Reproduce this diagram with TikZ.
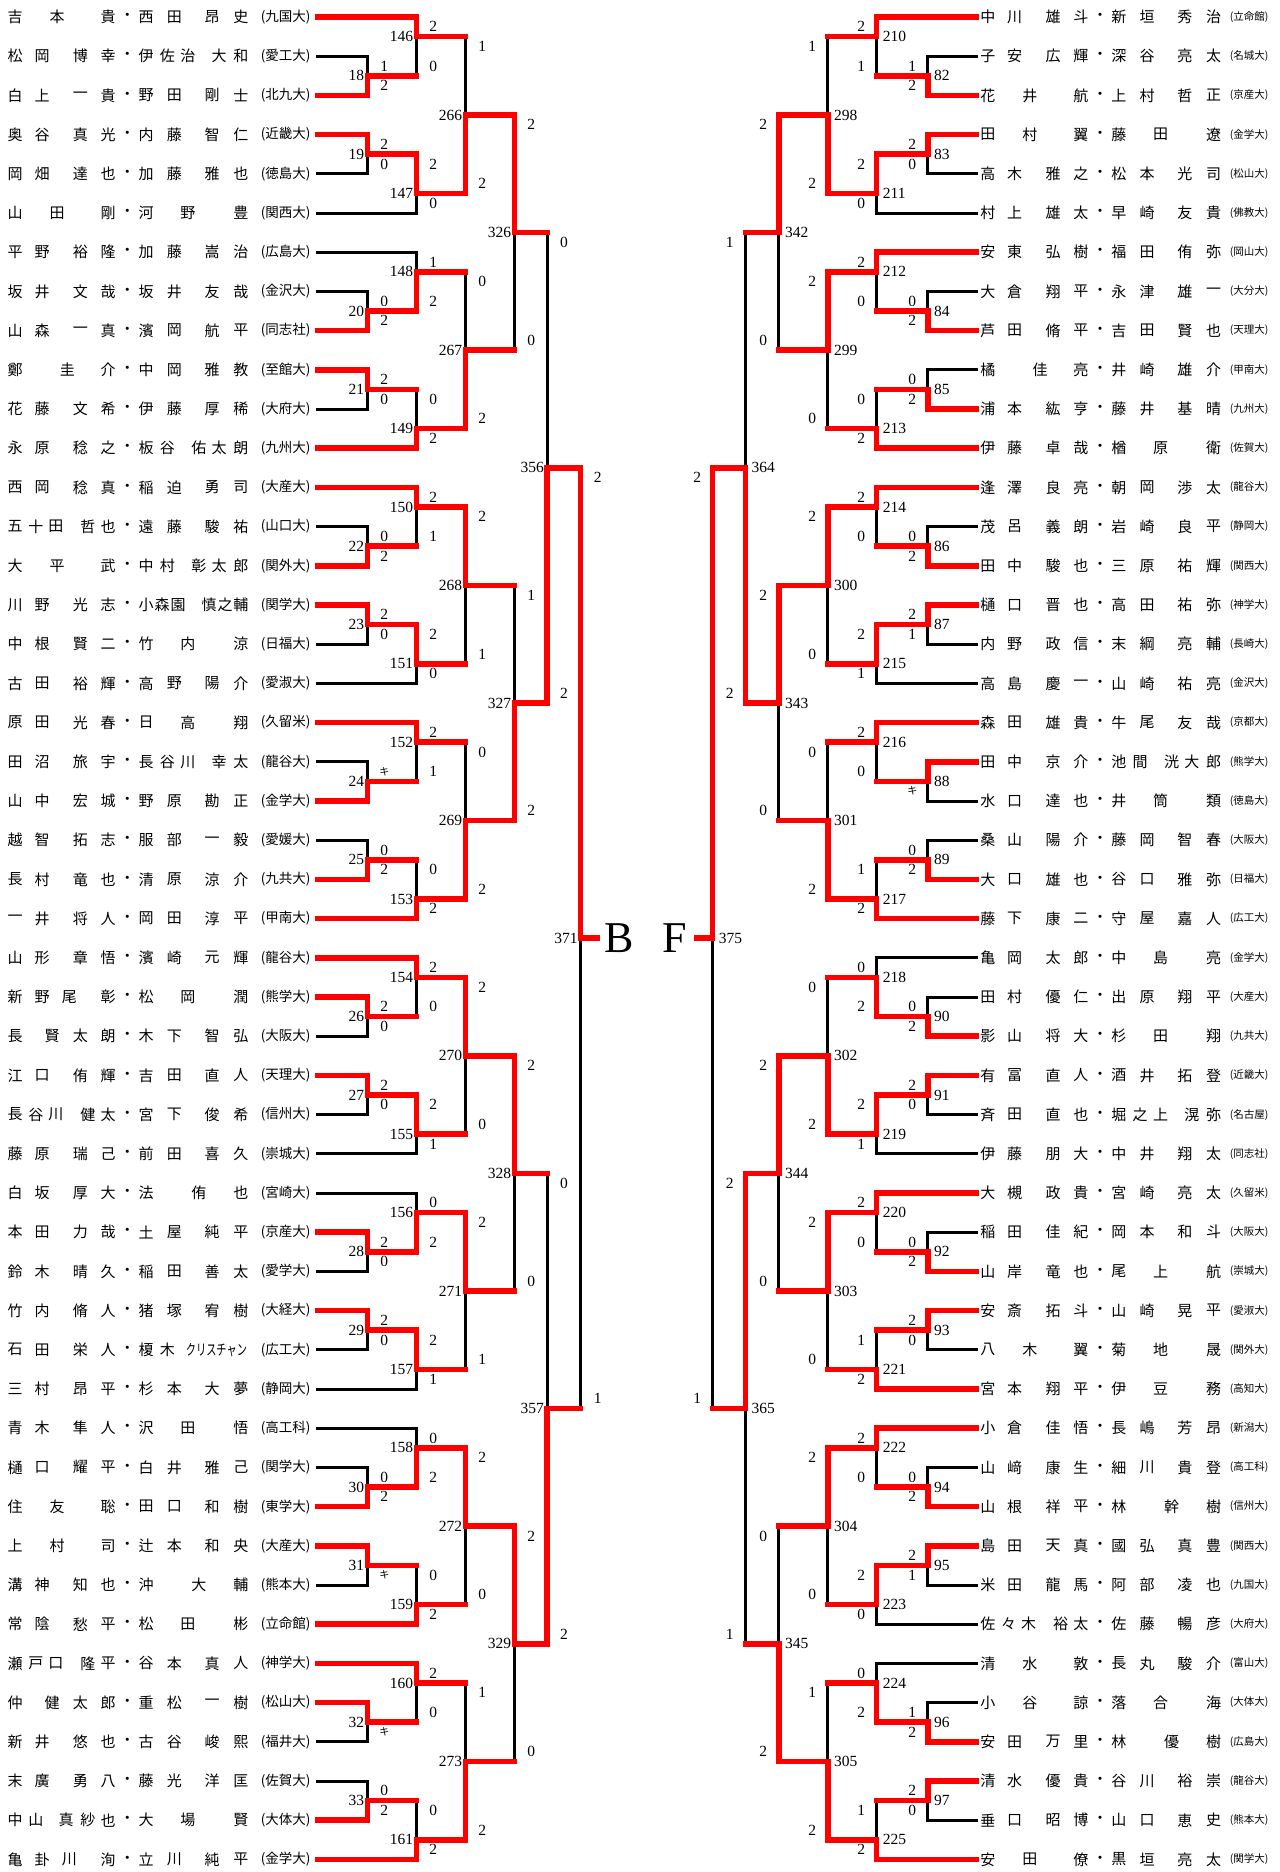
\documentclass[tikz,border=0pt]{standalone}
\usepackage{fontspec}
\usepackage{graphicx}
\setmainfont{Liberation Serif}
\newfontfamily\cjk{Noto Sans CJK JP}
\pgfdeclarelayer{back}
\pgfsetlayers{back,main}
\definecolor{wred}{RGB}{255,0,0}
\tikzset{
 redln/.style={draw=wred, line width=5.5pt, line cap=rect, line join=miter},
 blkln/.style={draw=black, line width=3pt, line cap=rect},
 nmf/.style={inner sep=0pt, font=\cjk\fontsize{15}{15}\selectfont},
 unl/.style={inner sep=0pt, font=\cjk\fontsize{13.5}{13.5}\selectfont},
 unr/.style={inner sep=0pt, font=\cjk\fontsize{10.5}{10.5}\selectfont},
 lab/.style={inner sep=0pt, font=\fontsize{15.5}{15.5}\selectfont},
 sc/.style={inner sep=0pt, font=\fontsize{15.5}{15.5}\selectfont},
 big/.style={inner sep=0pt, font=\fontsize{44}{44}\selectfont},
}
\newcommand\chr[2]{\node[nmf] at ({\xoff+#1},\currow) {#2};}
\newcommand\FAA[4]{\chr{15.1}{#1}\chr{42}{#2}\chr{80.4}{#3}\chr{108.2}{#4}}
\newcommand\FAB[3]{\chr{15.1}{#1}\chr{57.1}{#2}\chr{108.2}{#3}}
\newcommand\FBA[3]{\chr{15.1}{#1}\chr{67.3}{#2}\chr{108.2}{#3}}
\newcommand\FCA[5]{\chr{15.1}{#1}\chr{35.9}{#2}\chr{55.9}{#3}\chr{87.8}{#4}\chr{108.2}{#5}}
\newcommand\FCB[4]{\chr{15.1}{#1}\chr{42}{#2}\chr{69.4}{#3}\chr{108.2}{#4}}
\newcommand\FBC[4]{\chr{15.1}{#1}\chr{52.2}{#2}\chr{80.4}{#3}\chr{108.2}{#4}}
\newcommand\FAC[5]{\chr{15.1}{#1}\chr{35.9}{#2}\chr{66.1}{#3}\chr{87.8}{#4}\chr{108.2}{#5}}
\newcommand\SAA[4]{\chr{146.1}{#1}\chr{174.3}{#2}\chr{212.2}{#3}\chr{240.8}{#4}}
\newcommand\SCA[5]{\chr{146.1}{#1}\chr{167.3}{#2}\chr{187.8}{#3}\chr{219.2}{#4}\chr{240.8}{#5}}
\newcommand\SAB[3]{\chr{146.1}{#1}\chr{187.8}{#2}\chr{240.8}{#3}}
\newcommand\SBA[3]{\chr{146.1}{#1}\chr{198.8}{#2}\chr{240.8}{#3}}
\newcommand\SAC[5]{\chr{146.1}{#1}\chr{167.3}{#2}\chr{198.8}{#3}\chr{219.2}{#4}\chr{240.8}{#5}}
\newcommand\SCC[6]{\chr{146.1}{#1}\chr{162}{#2}\chr{178}{#3}\chr{209}{#4}\chr{225}{#5}\chr{240.8}{#6}}
\newcommand\nmL[4]{\def\currow{#1}\def\xoff{0}#2\chr{127.3}{・}#3\node[unl] at (285.7,#1) {(#4)};}
\newcommand\nmR[4]{\def\currow{#1}\def\xoff{972.7}#2\chr{127.3}{・}#3\node[unr] at (1249.2,#1) {(#4)};}
\newcommand\kiken{{\cjk\fontsize{10}{10}\selectfont キ}}
% name line: row, xstart, xend, r/b
\newcommand\nl[4]{\if#4r\draw[redln] (#2,#1) -- (#3,#1);\else\begin{pgfonlayer}{back}\draw[blkln] (#2,#1) -- (#3,#1);\end{pgfonlayer}\fi}
\newcommand\nlL[3]{\nl{#1}{317.6}{#2}{#3}}
\newcommand\nlR[3]{\nl{#1}{976.7}{#2}{#3}}
% match: X, Xout, rowTop, rowBottom, rowOut, rowWinner, label, scoreTop, scoreBottom
\newcommand\mL[9]{\begin{pgfonlayer}{back}\draw[blkln] (#1,#3) -- (#1,#4);\end{pgfonlayer}%
 \draw[redln] (#1,#6) -- (#1,#5) -- (#2,#5);%
 \node[lab,anchor=east] at ({#1-3},#5) {#7};%
 \node[sc] at ({#1+17},{#3+0.25}) {#8};%
 \node[sc] at ({#1+17},{#4-0.25}) {#9};}
\newcommand\mR[9]{\begin{pgfonlayer}{back}\draw[blkln] (#1,#3) -- (#1,#4);\end{pgfonlayer}%
 \draw[redln] (#1,#6) -- (#1,#5) -- (#2,#5);%
 \node[lab,anchor=west] at ({#1+6},#5) {#7};%
 \node[sc] at ({#1-15.5},{#3+0.25}) {#8};%
 \node[sc] at ({#1-15.5},{#4-0.25}) {#9};}
\def\La{367.3}\def\Lb{416.3}\def\Lc{465.3}\def\Ld{514.3}\def\Le{547}\def\Lf{580.7}\def\Lg{597}
\def\Ra{927.8}\def\Rb{876.7}\def\Rc{827.8}\def\Rd{778.8}\def\Re{745.3}\def\Rf{712.7}\def\Rg{696.7}
\begin{document}
\begin{tikzpicture}[x=1pt,y=-39.2pt]
\begin{pgfonlayer}{back}
\fill[white] (0,0.5663) rectangle (1280,48.3214);
\end{pgfonlayer}
\useasboundingbox (0,0.5663) rectangle (1280,48.3214);
% ---------------- LEFT NAMES ----------------
\nmL{1}{\FAB{吉}{本}{貴}}{\SAA{西}{田}{昂}{史}}{九国大}
\nmL{2}{\FAA{松}{岡}{博}{幸}}{\SCA{伊}{佐}{治}{大}{和}}{愛工大}
\nmL{3}{\FAA{白}{上}{一}{貴}}{\SAA{野}{田}{剛}{士}}{北九大}
\nmL{4}{\FAA{奥}{谷}{真}{光}}{\SAA{内}{藤}{智}{仁}}{近畿大}
\nmL{5}{\FAA{岡}{畑}{達}{也}}{\SAA{加}{藤}{雅}{也}}{徳島大}
\nmL{6}{\FAB{山}{田}{剛}}{\SAB{河}{野}{豊}}{関西大}
\nmL{7}{\FAA{平}{野}{裕}{隆}}{\SAA{加}{藤}{嵩}{治}}{広島大}
\nmL{8}{\FAA{坂}{井}{文}{哉}}{\SAA{坂}{井}{友}{哉}}{金沢大}
\nmL{9}{\FAA{山}{森}{一}{真}}{\SAA{濱}{岡}{航}{平}}{同志社}
\nmL{10}{\FBA{鄭}{圭}{介}}{\SAA{中}{岡}{雅}{教}}{至館大}
\nmL{11}{\FAA{花}{藤}{文}{希}}{\SAA{伊}{藤}{厚}{稀}}{大府大}
\nmL{12}{\FAA{永}{原}{稔}{之}}{\SAC{板}{谷}{佑}{太}{朗}}{九州大}
\nmL{13}{\FAA{西}{岡}{稔}{真}}{\SAA{稲}{迫}{勇}{司}}{大産大}
\nmL{14}{\FCA{五}{十}{田}{哲}{也}}{\SAA{遠}{藤}{駿}{祐}}{山口大}
\nmL{15}{\FAB{大}{平}{武}}{\SAC{中}{村}{彰}{太}{郎}}{関外大}
\nmL{16}{\FAA{川}{野}{光}{志}}{\SCC{小}{森}{園}{慎}{之}{輔}}{関学大}
\nmL{17}{\FAA{中}{根}{賢}{二}}{\SAB{竹}{内}{涼}}{日福大}
\nmL{18}{\FAA{古}{田}{裕}{輝}}{\SAA{高}{野}{陽}{介}}{愛淑大}
\nmL{19}{\FAA{原}{田}{光}{春}}{\SAB{日}{高}{翔}}{久留米}
\nmL{20}{\FAA{田}{沼}{旅}{宇}}{\SCA{長}{谷}{川}{幸}{太}}{龍谷大}
\nmL{21}{\FAA{山}{中}{宏}{城}}{\SAA{野}{原}{勘}{正}}{金学大}
\nmL{22}{\FAA{越}{智}{拓}{志}}{\SAA{服}{部}{一}{毅}}{愛媛大}
\nmL{23}{\FAA{長}{村}{竜}{也}}{\SAA{清}{原}{涼}{介}}{九共大}
\nmL{24}{\FAA{一}{井}{将}{人}}{\SAA{岡}{田}{淳}{平}}{甲南大}
\nmL{25}{\FAA{山}{形}{章}{悟}}{\SAA{濱}{崎}{元}{輝}}{龍谷大}
\nmL{26}{\FCB{新}{野}{尾}{彰}}{\SAB{松}{岡}{潤}}{熊学大}
\nmL{27}{\FBC{長}{賢}{太}{朗}}{\SAA{木}{下}{智}{弘}}{大阪大}
\nmL{28}{\FAA{江}{口}{侑}{輝}}{\SAA{吉}{田}{直}{人}}{天理大}
\nmL{29}{\FCA{長}{谷}{川}{健}{太}}{\SAA{宮}{下}{俊}{希}}{信州大}
\nmL{30}{\FAA{藤}{原}{瑞}{己}}{\SAA{前}{田}{喜}{久}}{崇城大}
\nmL{31}{\FAA{白}{坂}{厚}{大}}{\SBA{法}{侑}{也}}{宮崎大}
\nmL{32}{\FAA{本}{田}{力}{哉}}{\SAA{土}{屋}{純}{平}}{京産大}
\nmL{33}{\FAA{鈴}{木}{晴}{久}}{\SAA{稲}{田}{善}{太}}{愛学大}
\nmL{34}{\FAA{竹}{内}{脩}{人}}{\SAA{猪}{塚}{宥}{樹}}{大経大}
\nmL{35}{\FAA{石}{田}{栄}{人}}{\chr{146.1}{榎}\chr{167.3}{木}\node[nmf] at (216.4,35) {\scalebox{0.68}[1]{クリスチャン}};}{広工大}
\nmL{36}{\FAA{三}{村}{昂}{平}}{\SAA{杉}{本}{大}{夢}}{静岡大}
\nmL{37}{\FAA{青}{木}{隼}{人}}{\SAB{沢}{田}{悟}}{高工科}
\nmL{38}{\FAA{樋}{口}{耀}{平}}{\SAA{白}{井}{雅}{己}}{関学大}
\nmL{39}{\FAB{住}{友}{聡}}{\SAA{田}{口}{和}{樹}}{東学大}
\nmL{40}{\FAB{上}{村}{司}}{\SAA{辻}{本}{和}{央}}{大産大}
\nmL{41}{\FAA{溝}{神}{知}{也}}{\SBA{沖}{大}{輔}}{熊本大}
\nmL{42}{\FAA{常}{陰}{愁}{平}}{\SAB{松}{田}{彬}}{立命館}
\nmL{43}{\FCA{瀬}{戸}{口}{隆}{平}}{\SAA{谷}{本}{真}{人}}{神学大}
\nmL{44}{\FBC{仲}{健}{太}{郎}}{\SAA{重}{松}{一}{樹}}{松山大}
\nmL{45}{\FAA{新}{井}{悠}{也}}{\SAA{古}{谷}{峻}{熙}}{福井大}
\nmL{46}{\FAA{末}{廣}{勇}{八}}{\SAA{藤}{光}{洋}{匡}}{佐賀大}
\nmL{47}{\FAC{中}{山}{真}{紗}{也}}{\SAB{大}{場}{賢}}{大体大}
\nmL{48}{\FCB{亀}{卦}{川}{洵}}{\SAA{立}{川}{純}{平}}{金学大}
% ---------------- RIGHT NAMES ----------------
\nmR{1}{\FAA{中}{川}{雄}{斗}}{\SAA{新}{垣}{秀}{治}}{立命館}
\nmR{2}{\FAA{子}{安}{広}{輝}}{\SAA{深}{谷}{亮}{太}}{名城大}
\nmR{3}{\FAB{花}{井}{航}}{\SAA{上}{村}{哲}{正}}{京産大}
\nmR{4}{\FAB{田}{村}{翼}}{\SAB{藤}{田}{遼}}{金学大}
\nmR{5}{\FAA{高}{木}{雅}{之}}{\SAA{松}{本}{光}{司}}{松山大}
\nmR{6}{\FAA{村}{上}{雄}{太}}{\SAA{早}{崎}{友}{貴}}{佛教大}
\nmR{7}{\FAA{安}{東}{弘}{樹}}{\SAA{福}{田}{侑}{弥}}{岡山大}
\nmR{8}{\FAA{大}{倉}{翔}{平}}{\SAA{永}{津}{雄}{一}}{大分大}
\nmR{9}{\FAA{芦}{田}{脩}{平}}{\SAA{吉}{田}{賢}{也}}{天理大}
\nmR{10}{\FBA{橘}{佳}{亮}}{\SAA{井}{崎}{雄}{介}}{甲南大}
\nmR{11}{\FAA{浦}{本}{紘}{亨}}{\SAA{藤}{井}{基}{晴}}{九州大}
\nmR{12}{\FAA{伊}{藤}{卓}{哉}}{\SAB{楢}{原}{衛}}{佐賀大}
\nmR{13}{\FAA{逢}{澤}{良}{亮}}{\SAA{朝}{岡}{渉}{太}}{龍谷大}
\nmR{14}{\FAA{茂}{呂}{義}{朗}}{\SAA{岩}{崎}{良}{平}}{静岡大}
\nmR{15}{\FAA{田}{中}{駿}{也}}{\SAA{三}{原}{祐}{輝}}{関西大}
\nmR{16}{\FAA{樋}{口}{晋}{也}}{\SAA{高}{田}{祐}{弥}}{神学大}
\nmR{17}{\FAA{内}{野}{政}{信}}{\SAA{末}{綱}{亮}{輔}}{長崎大}
\nmR{18}{\FAA{高}{島}{慶}{一}}{\SAA{山}{崎}{祐}{亮}}{金沢大}
\nmR{19}{\FAA{森}{田}{雄}{貴}}{\SAA{牛}{尾}{友}{哉}}{京都大}
\nmR{20}{\FAA{田}{中}{京}{介}}{\SAC{池}{間}{洸}{大}{郎}}{熊学大}
\nmR{21}{\FAA{水}{口}{達}{也}}{\SAB{井}{筒}{類}}{徳島大}
\nmR{22}{\FAA{桑}{山}{陽}{介}}{\SAA{藤}{岡}{智}{春}}{大阪大}
\nmR{23}{\FAA{大}{口}{雄}{也}}{\SAA{谷}{口}{雅}{弥}}{日福大}
\nmR{24}{\FAA{藤}{下}{康}{二}}{\SAA{守}{屋}{嘉}{人}}{広工大}
\nmR{25}{\FAA{亀}{岡}{太}{郎}}{\SAB{中}{島}{亮}}{金学大}
\nmR{26}{\FAA{田}{村}{優}{仁}}{\SAA{出}{原}{翔}{平}}{大産大}
\nmR{27}{\FAA{影}{山}{将}{大}}{\SAB{杉}{田}{翔}}{九共大}
\nmR{28}{\FAA{有}{冨}{直}{人}}{\SAA{酒}{井}{拓}{登}}{近畿大}
\nmR{29}{\FAA{斉}{田}{直}{也}}{\SCA{堀}{之}{上}{滉}{弥}}{名古屋}
\nmR{30}{\FAA{伊}{藤}{朋}{大}}{\SAA{中}{井}{翔}{太}}{同志社}
\nmR{31}{\FAA{大}{槻}{政}{貴}}{\SAA{宮}{崎}{亮}{太}}{久留米}
\nmR{32}{\FAA{稲}{田}{佳}{紀}}{\SAA{岡}{本}{和}{斗}}{大阪大}
\nmR{33}{\FAA{山}{岸}{竜}{也}}{\SAB{尾}{上}{航}}{崇城大}
\nmR{34}{\FAA{安}{斎}{拓}{斗}}{\SAA{山}{崎}{晃}{平}}{愛淑大}
\nmR{35}{\FAB{八}{木}{翼}}{\SAB{菊}{地}{晟}}{関外大}
\nmR{36}{\FAA{宮}{本}{翔}{平}}{\SAB{伊}{豆}{務}}{高知大}
\nmR{37}{\FAA{小}{倉}{佳}{悟}}{\SAA{長}{嶋}{芳}{昂}}{新潟大}
\nmR{38}{\FAA{山}{﨑}{康}{生}}{\SAA{細}{川}{貴}{登}}{高工科}
\nmR{39}{\FAA{山}{根}{祥}{平}}{\SBA{林}{幹}{樹}}{信州大}
\nmR{40}{\FAA{島}{田}{天}{真}}{\SAA{國}{弘}{真}{豊}}{関西大}
\nmR{41}{\FAA{米}{田}{龍}{馬}}{\SAA{阿}{部}{凌}{也}}{九国大}
\nmR{42}{\FCA{佐}{々}{木}{裕}{太}}{\SAA{佐}{藤}{暢}{彦}}{大府大}
\nmR{43}{\FAB{清}{水}{敦}}{\SAA{長}{丸}{駿}{介}}{富山大}
\nmR{44}{\FAB{小}{谷}{諒}}{\SAB{落}{合}{海}}{大体大}
\nmR{45}{\FAA{安}{田}{万}{里}}{\SBA{林}{優}{樹}}{広島大}
\nmR{46}{\FAA{清}{水}{優}{貴}}{\SAA{谷}{川}{裕}{崇}}{龍谷大}
\nmR{47}{\FAA{垂}{口}{昭}{博}}{\SAA{山}{口}{恵}{史}}{熊本大}
\nmR{48}{\FAB{安}{田}{僚}}{\SAA{黒}{垣}{亮}{太}}{関学大}
% ---------------- LEFT NAME LINES ----------------
\nlL{1}{\Lb}{r}\nlL{2}{\La}{b}\nlL{3}{\La}{r}\nlL{4}{\La}{r}\nlL{5}{\La}{b}\nlL{6}{\Lb}{b}
\nlL{7}{\Lb}{b}\nlL{8}{\La}{b}\nlL{9}{\La}{r}\nlL{10}{\La}{r}\nlL{11}{\La}{b}\nlL{12}{\Lb}{r}
\nlL{13}{\Lb}{r}\nlL{14}{\La}{b}\nlL{15}{\La}{r}\nlL{16}{\La}{r}\nlL{17}{\La}{b}\nlL{18}{\Lb}{b}
\nlL{19}{\Lb}{r}\nlL{20}{\La}{b}\nlL{21}{\La}{r}\nlL{22}{\La}{b}\nlL{23}{\La}{r}\nlL{24}{\Lb}{r}
\nlL{25}{\Lb}{r}\nlL{26}{\La}{r}\nlL{27}{\La}{b}\nlL{28}{\La}{r}\nlL{29}{\La}{b}\nlL{30}{\Lb}{b}
\nlL{31}{\Lb}{b}\nlL{32}{\La}{r}\nlL{33}{\La}{b}\nlL{34}{\La}{r}\nlL{35}{\La}{b}\nlL{36}{\Lb}{b}
\nlL{37}{\Lb}{b}\nlL{38}{\La}{b}\nlL{39}{\La}{r}\nlL{40}{\La}{r}\nlL{41}{\La}{b}\nlL{42}{\Lb}{r}
\nlL{43}{\Lb}{r}\nlL{44}{\La}{r}\nlL{45}{\La}{b}\nlL{46}{\La}{b}\nlL{47}{\La}{r}\nlL{48}{\Lb}{r}
% ---------------- RIGHT NAME LINES ----------------
\nlR{1}{\Rb}{r}\nlR{2}{\Ra}{b}\nlR{3}{\Ra}{r}\nlR{4}{\Ra}{r}\nlR{5}{\Ra}{b}\nlR{6}{\Rb}{b}
\nlR{7}{\Rb}{r}\nlR{8}{\Ra}{b}\nlR{9}{\Ra}{r}\nlR{10}{\Ra}{b}\nlR{11}{\Ra}{r}\nlR{12}{\Rb}{r}
\nlR{13}{\Rb}{r}\nlR{14}{\Ra}{b}\nlR{15}{\Ra}{r}\nlR{16}{\Ra}{r}\nlR{17}{\Ra}{b}\nlR{18}{\Rb}{b}
\nlR{19}{\Rb}{r}\nlR{20}{\Ra}{r}\nlR{21}{\Ra}{b}\nlR{22}{\Ra}{b}\nlR{23}{\Ra}{r}\nlR{24}{\Rb}{r}
\nlR{25}{\Rb}{b}\nlR{26}{\Ra}{b}\nlR{27}{\Ra}{r}\nlR{28}{\Ra}{r}\nlR{29}{\Ra}{b}\nlR{30}{\Rb}{b}
\nlR{31}{\Rb}{r}\nlR{32}{\Ra}{b}\nlR{33}{\Ra}{r}\nlR{34}{\Ra}{r}\nlR{35}{\Ra}{b}\nlR{36}{\Rb}{r}
\nlR{37}{\Rb}{r}\nlR{38}{\Ra}{b}\nlR{39}{\Ra}{r}\nlR{40}{\Ra}{r}\nlR{41}{\Ra}{b}\nlR{42}{\Rb}{b}
\nlR{43}{\Rb}{b}\nlR{44}{\Ra}{b}\nlR{45}{\Ra}{r}\nlR{46}{\Ra}{r}\nlR{47}{\Ra}{b}\nlR{48}{\Rb}{r}
% ---------------- LEFT MATCHES ----------------
\mL{\La}{\Lb}{2}{3}{2.5}{3}{18}{1}{2}
\mL{\Lb}{\Lc}{1}{2.5}{1.5}{1}{146}{2}{0}
\mL{\La}{\Lb}{4}{5}{4.5}{4}{19}{2}{0}
\mL{\Lb}{\Lc}{4.5}{6}{5.5}{4.5}{147}{2}{0}
\mL{\Lc}{\Ld}{1.5}{5.5}{3.5}{5.5}{266}{1}{2}
\mL{\La}{\Lb}{8}{9}{8.5}{9}{20}{0}{2}
\mL{\Lb}{\Lc}{7}{8.5}{7.5}{8.5}{148}{1}{2}
\mL{\La}{\Lb}{10}{11}{10.5}{10}{21}{2}{0}
\mL{\Lb}{\Lc}{10.5}{12}{11.5}{12}{149}{0}{2}
\mL{\Lc}{\Ld}{7.5}{11.5}{9.5}{11.5}{267}{0}{2}
\mL{\Ld}{\Le}{3.5}{9.5}{6.5}{3.5}{326}{2}{0}
\mL{\La}{\Lb}{14}{15}{14.5}{15}{22}{0}{2}
\mL{\Lb}{\Lc}{13}{14.5}{13.5}{13}{150}{2}{1}
\mL{\La}{\Lb}{16}{17}{16.5}{16}{23}{2}{0}
\mL{\Lb}{\Lc}{16.5}{18}{17.5}{16.5}{151}{2}{0}
\mL{\Lc}{\Ld}{13.5}{17.5}{15.5}{13.5}{268}{2}{1}
\mL{\La}{\Lb}{20}{21}{20.5}{21}{24}{\kiken}{}
\mL{\Lb}{\Lc}{19}{20.5}{19.5}{19}{152}{2}{1}
\mL{\La}{\Lb}{22}{23}{22.5}{23}{25}{0}{2}
\mL{\Lb}{\Lc}{22.5}{24}{23.5}{24}{153}{0}{2}
\mL{\Lc}{\Ld}{19.5}{23.5}{21.5}{23.5}{269}{0}{2}
\mL{\Ld}{\Le}{15.5}{21.5}{18.5}{21.5}{327}{1}{2}
\mL{\La}{\Lb}{26}{27}{26.5}{26}{26}{2}{0}
\mL{\Lb}{\Lc}{25}{26.5}{25.5}{25}{154}{2}{0}
\mL{\La}{\Lb}{28}{29}{28.5}{28}{27}{2}{0}
\mL{\Lb}{\Lc}{28.5}{30}{29.5}{28.5}{155}{2}{1}
\mL{\Lc}{\Ld}{25.5}{29.5}{27.5}{25.5}{270}{2}{0}
\mL{\La}{\Lb}{32}{33}{32.5}{32}{28}{2}{0}
\mL{\Lb}{\Lc}{31}{32.5}{31.5}{32.5}{156}{0}{2}
\mL{\La}{\Lb}{34}{35}{34.5}{34}{29}{2}{0}
\mL{\Lb}{\Lc}{34.5}{36}{35.5}{34.5}{157}{2}{1}
\mL{\Lc}{\Ld}{31.5}{35.5}{33.5}{31.5}{271}{2}{1}
\mL{\Ld}{\Le}{27.5}{33.5}{30.5}{27.5}{328}{2}{0}
\mL{\La}{\Lb}{38}{39}{38.5}{39}{30}{0}{2}
\mL{\Lb}{\Lc}{37}{38.5}{37.5}{38.5}{158}{0}{2}
\mL{\La}{\Lb}{40}{41}{40.5}{40}{31}{}{\kiken}
\mL{\Lb}{\Lc}{40.5}{42}{41.5}{42}{159}{0}{2}
\mL{\Lc}{\Ld}{37.5}{41.5}{39.5}{37.5}{272}{2}{0}
\mL{\La}{\Lb}{44}{45}{44.5}{44}{32}{}{\kiken}
\mL{\Lb}{\Lc}{43}{44.5}{43.5}{43}{160}{2}{0}
\mL{\La}{\Lb}{46}{47}{46.5}{47}{33}{0}{2}
\mL{\Lb}{\Lc}{46.5}{48}{47.5}{48}{161}{0}{2}
\mL{\Lc}{\Ld}{43.5}{47.5}{45.5}{47.5}{273}{1}{2}
\mL{\Ld}{\Le}{39.5}{45.5}{42.5}{39.5}{329}{2}{0}
\mL{\Le}{\Lf}{6.5}{18.5}{12.5}{18.5}{356}{0}{2}
\mL{\Le}{\Lf}{30.5}{42.5}{36.5}{42.5}{357}{0}{2}
\mL{\Lf}{\Lg}{12.5}{36.5}{24.5}{12.5}{371}{2}{1}
% ---------------- RIGHT MATCHES ----------------
\mR{\Ra}{\Rb}{2}{3}{2.5}{3}{82}{1}{2}
\mR{\Rb}{\Rc}{1}{2.5}{1.5}{1}{210}{2}{1}
\mR{\Ra}{\Rb}{4}{5}{4.5}{4}{83}{2}{0}
\mR{\Rb}{\Rc}{4.5}{6}{5.5}{4.5}{211}{2}{0}
\mR{\Rc}{\Rd}{1.5}{5.5}{3.5}{5.5}{298}{1}{2}
\mR{\Ra}{\Rb}{8}{9}{8.5}{9}{84}{0}{2}
\mR{\Rb}{\Rc}{7}{8.5}{7.5}{7}{212}{2}{0}
\mR{\Ra}{\Rb}{10}{11}{10.5}{11}{85}{0}{2}
\mR{\Rb}{\Rc}{10.5}{12}{11.5}{12}{213}{0}{2}
\mR{\Rc}{\Rd}{7.5}{11.5}{9.5}{7.5}{299}{2}{0}
\mR{\Rd}{\Re}{3.5}{9.5}{6.5}{3.5}{342}{2}{0}
\mR{\Ra}{\Rb}{14}{15}{14.5}{15}{86}{0}{2}
\mR{\Rb}{\Rc}{13}{14.5}{13.5}{13}{214}{2}{0}
\mR{\Ra}{\Rb}{16}{17}{16.5}{16}{87}{2}{1}
\mR{\Rb}{\Rc}{16.5}{18}{17.5}{16.5}{215}{2}{1}
\mR{\Rc}{\Rd}{13.5}{17.5}{15.5}{13.5}{300}{2}{0}
\mR{\Ra}{\Rb}{20}{21}{20.5}{20}{88}{}{\kiken}
\mR{\Rb}{\Rc}{19}{20.5}{19.5}{19}{216}{2}{0}
\mR{\Ra}{\Rb}{22}{23}{22.5}{23}{89}{0}{2}
\mR{\Rb}{\Rc}{22.5}{24}{23.5}{24}{217}{1}{2}
\mR{\Rc}{\Rd}{19.5}{23.5}{21.5}{23.5}{301}{0}{2}
\mR{\Rd}{\Re}{15.5}{21.5}{18.5}{15.5}{343}{2}{0}
\mR{\Ra}{\Rb}{26}{27}{26.5}{27}{90}{0}{2}
\mR{\Rb}{\Rc}{25}{26.5}{25.5}{26.5}{218}{0}{2}
\mR{\Ra}{\Rb}{28}{29}{28.5}{28}{91}{2}{0}
\mR{\Rb}{\Rc}{28.5}{30}{29.5}{28.5}{219}{2}{1}
\mR{\Rc}{\Rd}{25.5}{29.5}{27.5}{29.5}{302}{0}{2}
\mR{\Ra}{\Rb}{32}{33}{32.5}{33}{92}{0}{2}
\mR{\Rb}{\Rc}{31}{32.5}{31.5}{31}{220}{2}{0}
\mR{\Ra}{\Rb}{34}{35}{34.5}{34}{93}{2}{0}
\mR{\Rb}{\Rc}{34.5}{36}{35.5}{36}{221}{1}{2}
\mR{\Rc}{\Rd}{31.5}{35.5}{33.5}{31.5}{303}{2}{0}
\mR{\Rd}{\Re}{27.5}{33.5}{30.5}{27.5}{344}{2}{0}
\mR{\Ra}{\Rb}{38}{39}{38.5}{39}{94}{0}{2}
\mR{\Rb}{\Rc}{37}{38.5}{37.5}{37}{222}{2}{0}
\mR{\Ra}{\Rb}{40}{41}{40.5}{40}{95}{2}{1}
\mR{\Rb}{\Rc}{40.5}{42}{41.5}{40.5}{223}{2}{0}
\mR{\Rc}{\Rd}{37.5}{41.5}{39.5}{37.5}{304}{2}{0}
\mR{\Ra}{\Rb}{44}{45}{44.5}{45}{96}{1}{2}
\mR{\Rb}{\Rc}{43}{44.5}{43.5}{44.5}{224}{0}{2}
\mR{\Ra}{\Rb}{46}{47}{46.5}{46}{97}{2}{0}
\mR{\Rb}{\Rc}{46.5}{48}{47.5}{48}{225}{1}{2}
\mR{\Rc}{\Rd}{43.5}{47.5}{45.5}{47.5}{305}{1}{2}
\mR{\Rd}{\Re}{39.5}{45.5}{42.5}{45.5}{345}{0}{2}
\mR{\Re}{\Rf}{6.5}{18.5}{12.5}{18.5}{364}{1}{2}
\mR{\Re}{\Rf}{30.5}{42.5}{36.5}{30.5}{365}{2}{1}
\mR{\Rf}{\Rg}{12.5}{36.5}{24.5}{12.5}{375}{2}{1}
% ---------------- CENTRE ----------------
\node[big] (B) at (619,24.5) {B};
\node[big] (F) at (674.5,24.5) {F};
\end{tikzpicture}
\end{document}
